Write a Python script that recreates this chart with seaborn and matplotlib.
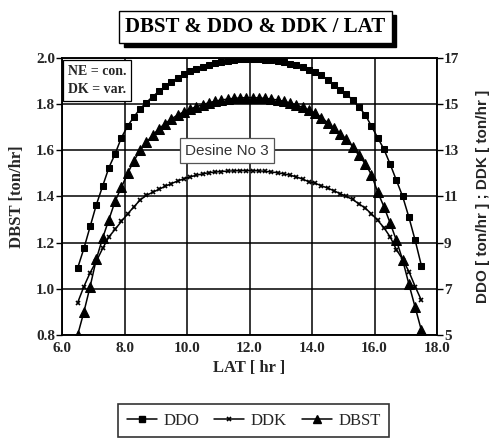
import numpy as np
import pandas as pd
import matplotlib
matplotlib.use("Agg")
import matplotlib.pyplot as plt
import seaborn as sns
from matplotlib.lines import Line2D
from matplotlib.patches import Rectangle

# data
lat = [6.5, 6.7, 6.9, 7.1, 7.3, 7.5, 7.7, 7.9, 8.1, 8.3, 8.5, 8.7, 8.9, 9.1,
       9.3, 9.5, 9.7, 9.9, 10.1, 10.3, 10.5, 10.7, 10.9, 11.1, 11.3, 11.5, 11.7, 11.9,
       12.1, 12.3, 12.5, 12.7, 12.9, 13.1, 13.3, 13.5, 13.7, 13.9, 14.1, 14.3, 14.5, 14.7,
       14.9, 15.1, 15.3, 15.5, 15.7, 15.9, 16.1, 16.3, 16.5, 16.7, 16.9, 17.1, 17.3, 17.5]

# DDO [ton/hr] (right axis)
ddo = [7.9, 8.75, 9.7, 10.65, 11.45, 12.25, 12.85, 13.55, 14.05, 14.45, 14.8, 15.07, 15.33, 15.55,
       15.77, 15.96, 16.14, 16.3, 16.42, 16.52, 16.62, 16.7, 16.77, 16.83, 16.88, 16.92, 16.95, 16.96,
       16.96, 16.95, 16.93, 16.9, 16.87, 16.82, 16.76, 16.68, 16.59, 16.49, 16.38, 16.25, 16.06, 15.84,
       15.63, 15.43, 15.18, 14.87, 14.55, 14.05, 13.55, 13.05, 12.4, 11.7, 11.0, 10.1, 9.1, 8.0]

# DDK [ton/hr] (right axis)
ddk = [6.4, 7.1, 7.7, 8.2, 8.75, 9.25, 9.58, 9.92, 10.25, 10.55, 10.85, 11.05, 11.18, 11.31,
       11.44, 11.56, 11.67, 11.77, 11.85, 11.92, 11.98, 12.03, 12.06, 12.08, 12.1, 12.11, 12.12, 12.12,
       12.12, 12.11, 12.09, 12.06, 12.03, 11.98, 11.92, 11.85, 11.75, 11.64, 11.57, 11.47, 11.36, 11.25,
       11.12, 11.0, 10.87, 10.68, 10.5, 10.25, 9.97, 9.65, 9.25, 8.7, 8.27, 7.75, 7.1, 6.5]

# DBST [ton/hr] (left axis)
dbst = [0.80, 0.90, 1.01, 1.13, 1.22, 1.30, 1.38, 1.44, 1.50, 1.555, 1.60, 1.635, 1.665, 1.693,
        1.716, 1.736, 1.753, 1.767, 1.779, 1.789, 1.798, 1.806, 1.813, 1.818, 1.822, 1.825, 1.827, 1.828,
        1.828, 1.827, 1.825, 1.822, 1.818, 1.812, 1.805, 1.796, 1.786, 1.775, 1.762, 1.742, 1.72, 1.696,
        1.671, 1.648, 1.616, 1.578, 1.542, 1.495, 1.42, 1.356, 1.285, 1.21, 1.125, 1.02, 0.92, 0.82]

x_ticks = [6.0, 8.0, 10.0, 12.0, 14.0, 16.0, 18.0]
left_ticks = [0.8, 1.0, 1.2, 1.4, 1.6, 1.8, 2.0]
right_ticks = [5, 7, 9, 11, 13, 15, 17]

df = pd.DataFrame({"LAT": lat, "DDO": ddo, "DDK": ddk, "DBST": dbst})

sns.set_style("white")
plt.rcParams["font.family"] = ["Liberation Serif", "DejaVu Serif"]

fig = plt.figure(figsize=(4.95, 4.46), dpi=100)
ax = fig.add_axes([0.1253, 0.2489, 0.7576, 0.6211])
ax2 = ax.twinx()

# curves
lw = 1.1
sns.lineplot(data=df, x="LAT", y="DBST", ax=ax, color="black", linewidth=lw,
             marker="^", markersize=6.5, markeredgecolor="black", legend=False)
sns.lineplot(data=df, x="LAT", y="DDO", ax=ax2, color="black", linewidth=lw,
             marker="s", markersize=5, markeredgecolor="black", legend=False)
sns.lineplot(data=df, x="LAT", y="DDK", ax=ax2, color="black", linewidth=lw,
             marker="x", markersize=3.5, markeredgecolor="black", markeredgewidth=1.2,
             legend=False)

# axes and grid
ax.set_xlim(6.0, 18.0)
ax.set_ylim(0.8, 2.0)
ax2.set_ylim(5, 17)
ax.set_xticks(x_ticks)
ax.set_xticklabels([f"{t:.1f}" for t in x_ticks])
ax.set_yticks(left_ticks)
ax.set_yticklabels([f"{t:.1f}" for t in left_ticks])
ax2.set_yticks(right_ticks)
ax2.set_yticklabels([str(t) for t in right_ticks])
ax.grid(True, color="black", linewidth=1.1)
ax2.grid(False)
for a in (ax, ax2):
    for s in a.spines.values():
        s.set_color("black")
        s.set_linewidth(1.1)
ax.tick_params(axis="both", direction="out", length=4, width=1.0, color="black",
               labelsize=11, pad=1)
ax2.tick_params(axis="y", direction="out", length=4, width=1.0, color="black",
                labelsize=11, pad=1)
for lab in ax.get_xticklabels() + ax.get_yticklabels() + ax2.get_yticklabels():
    lab.set_fontweight("bold")

ax.set_xlabel("LAT [ hr ]", fontsize=12, fontweight="bold", labelpad=4)
ax.set_ylabel("DBST [ton/hr]", fontsize=12, fontweight="bold", labelpad=8)
ax2.set_ylabel("DDO [ ton/hr ] ; DDK [ ton/hr ]", fontsize=11, fontweight="bold",
               family="Liberation Sans", labelpad=12)

# text boxes inside the plot
ax.text(0.015, 0.975, "NE = con.\nDK = var.", transform=ax.transAxes, ha="left", va="top",
        fontsize=10, fontweight="bold", linespacing=1.5,
        bbox=dict(boxstyle="square,pad=0.35", facecolor="white", edgecolor="black", linewidth=0.9))
ax.text(0.44, 0.665, "Desine No 3", transform=ax.transAxes, ha="center", va="center",
        fontsize=11, family="Liberation Sans", color="#333333",
        bbox=dict(boxstyle="square,pad=0.35", facecolor="white", edgecolor="#555555", linewidth=0.9))

# title in a box with a drop shadow
title = fig.text(0.516, 0.94, "DBST & DDO & DDK / LAT", ha="center", va="center",
                 fontsize=15, fontweight="bold", color="black", zorder=5,
                 bbox=dict(boxstyle="square,pad=0.3", facecolor="white", edgecolor="black",
                           linewidth=1.0))
fig.canvas.draw()
bb = title.get_bbox_patch().get_window_extent().transformed(fig.transFigure.inverted())
shadow = Rectangle((bb.x0 + 0.009, bb.y0 - 0.010), bb.width, bb.height,
                   transform=fig.transFigure, facecolor="black", edgecolor="black", zorder=4)
fig.patches.append(shadow)

# legend at the bottom
handles = [
    Line2D([0], [0], color="black", linewidth=lw, marker="s", markersize=4.5),
    Line2D([0], [0], color="black", linewidth=lw, marker="x", markersize=3.5, markeredgewidth=1.2),
    Line2D([0], [0], color="black", linewidth=lw, marker="^", markersize=6),
]
leg = fig.legend(handles, ["DDO", "DDK", "DBST"], loc="center", bbox_to_anchor=(0.513, 0.057),
                 ncol=3, frameon=True, fancybox=False, handlelength=1.8,
                 prop={"family": "Liberation Serif", "size": 12},
                 handletextpad=0.4, columnspacing=0.9, borderpad=0.5)
leg.get_frame().set_edgecolor("black")
leg.get_frame().set_linewidth(1.2)

plt.savefig("out.png", dpi=100)
